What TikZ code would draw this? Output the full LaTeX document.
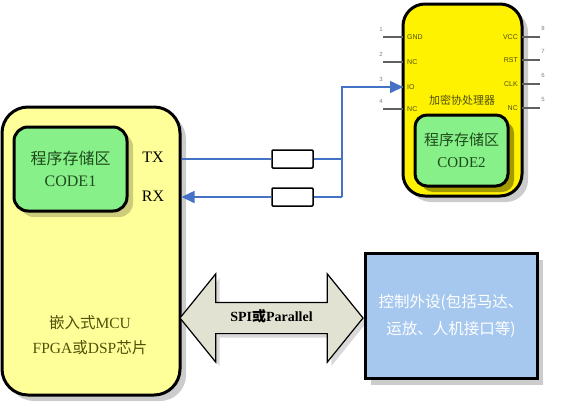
\documentclass[tikz,border=0pt]{standalone}
\usepackage{fontspec}
\setmainfont{Liberation Serif}
\newfontfamily\cjk{Noto Sans CJK SC}
\newfontfamily\pinfont{Liberation Sans}
\usetikzlibrary{shapes.arrows,shadows,arrows.meta}

\definecolor{mcuyellow}{HTML}{FFFF99}
\definecolor{codegreen}{HTML}{88F088}
\definecolor{codetext}{HTML}{1E4A1E}
\definecolor{sigblue}{HTML}{4472C4}
\definecolor{periblue}{HTML}{A6C8EE}
\definecolor{busgray}{HTML}{E2E2D2}
\definecolor{chiptext}{HTML}{50500A}
\definecolor{pingray}{HTML}{606060}

\begin{document}
\begin{tikzpicture}[x=1pt,y=-1pt,
  chip/.style={draw=black,line width=3pt,rounded corners=#1,inner sep=0pt,
    drop shadow={shadow xshift=6pt,shadow yshift=-6pt,fill=black,opacity=.2}},
  chip/.default=22pt,
  mem/.style={chip=14pt,fill=codegreen,text=codetext,align=center,
    font=\fontsize{16}{22}\selectfont},
  res/.style={draw=black,line width=1.5pt,fill=white,rounded corners=1pt,
    minimum width=41pt,minimum height=18pt,inner sep=0pt},
  sig/.style={draw=sigblue,line width=1.6pt},
  sigarrow/.style={sig,-{Triangle[length=13pt,width=12pt]}},
  pin/.style={draw=pingray,line width=1.8pt},
  pinlbl/.style={font=\pinfont\fontsize{7}{8}\selectfont,text=chiptext,inner sep=1pt},
  pinnum/.style={font=\pinfont\fontsize{6}{7}\selectfont,text=gray,inner sep=0pt},
  bus/.style={shape=double arrow,draw=black,line width=1.2pt,fill=busgray,
    double arrow tip angle=102,double arrow head extend=28.5pt,
    minimum height=183pt,inner xsep=0pt,inner ysep=8pt,
    text height=10pt,text depth=4pt,font=\bfseries\fontsize{14}{15}\selectfont,
    drop shadow={shadow xshift=4pt,shadow yshift=-4pt,fill=black,opacity=.15}}]

  \useasboundingbox (0,0) rectangle (561,410);

  % Host controller with its own program memory

  \node [chip=26pt,fill=mcuyellow,minimum width=178pt,minimum height=288pt] (mcu) at (91,251) {};
  \node [mem,minimum width=113pt,minimum height=84pt] (code1) at (70.5,169) {{\cjk 程序存储区}\\CODE1};
  \node [font=\fontsize{16}{18}\selectfont] (tx) at (153,157) {TX};
  \node [font=\fontsize{16}{18}\selectfont] (rx) at (153,196) {RX};
  \node [text=chiptext,align=center,font=\fontsize{15.5}{25}\selectfont] (mcutxt) at (90,335.5)
    {{\cjk 嵌入式}MCU\\FPGA{\cjk 或}DSP{\cjk 芯片}};

  % Crypto coprocessor and its pins

  \node [chip=22pt,fill=yellow,minimum width=119pt,minimum height=192pt] (cop) at (462.5,100) {};
  \node [mem,chip=12pt,minimum width=93pt,minimum height=71pt,font=\fontsize{15}{22}\selectfont]
    (code2) at (461.5,150.5) {{\cjk 程序存储区}\\CODE2};
  \node [text=chiptext,font=\cjk\fontsize{11}{12}\selectfont] (coptxt) at (462,100) {加密协处理器};

  \foreach \y/\n/\t in {37/1/GND, 62/2/NC, 87/3/IO, 109/4/NC} {
    \coordinate (lp\n) at (403,\y);
    \draw [pin] (lp\n) -- ++(-20,0);
    \node [pinlbl,anchor=west] (lt\n) at (406,\y) {\t};
    \node [pinnum] (ln\n) at (381,\y-8) {\n};
  }
  \foreach \y/\n/\t in {37/8/VCC, 60/7/RST, 84/6/CLK, 108/5/NC} {
    \coordinate (rp\n) at (522,\y);
    \draw [pin] (rp\n) -- ++(18,0);
    \node [pinlbl,anchor=east] (rt\n) at (519,\y) {\t};
    \node [pinnum] (rn\n) at (543,\y-9) {\n};
  }

  % Serial link through the two resistors

  \node [res] (r1) at (292.5,159) {};
  \node [res] (r2) at (292.5,197) {};
  \coordinate (jt) at (342,159);
  \coordinate (jr) at (342,197);

  \draw [sig] (mcu.east |- r1) -- (r1.west);
  \draw [sig] (r1.east) -- (jt);
  \draw [sig] (jr) -- (r2.east);
  \draw [sigarrow] (r2.west) -- (mcu.east |- r2);
  \draw [sigarrow] (jr) |- (lp3);

  % Peripherals on the parallel bus

  \node [chip=0pt,fill=periblue,minimum width=172pt,minimum height=125pt,text=white,
    align=center,font=\cjk\fontsize{15.5}{27}\selectfont] (periph) at (451,316)
    {控制外设(包括马达、\\运放、人机接口等)};
  \node [bus] (spi) at (271.5,318) {SPI{\cjk 或}Parallel};
\end{tikzpicture}
\end{document}
